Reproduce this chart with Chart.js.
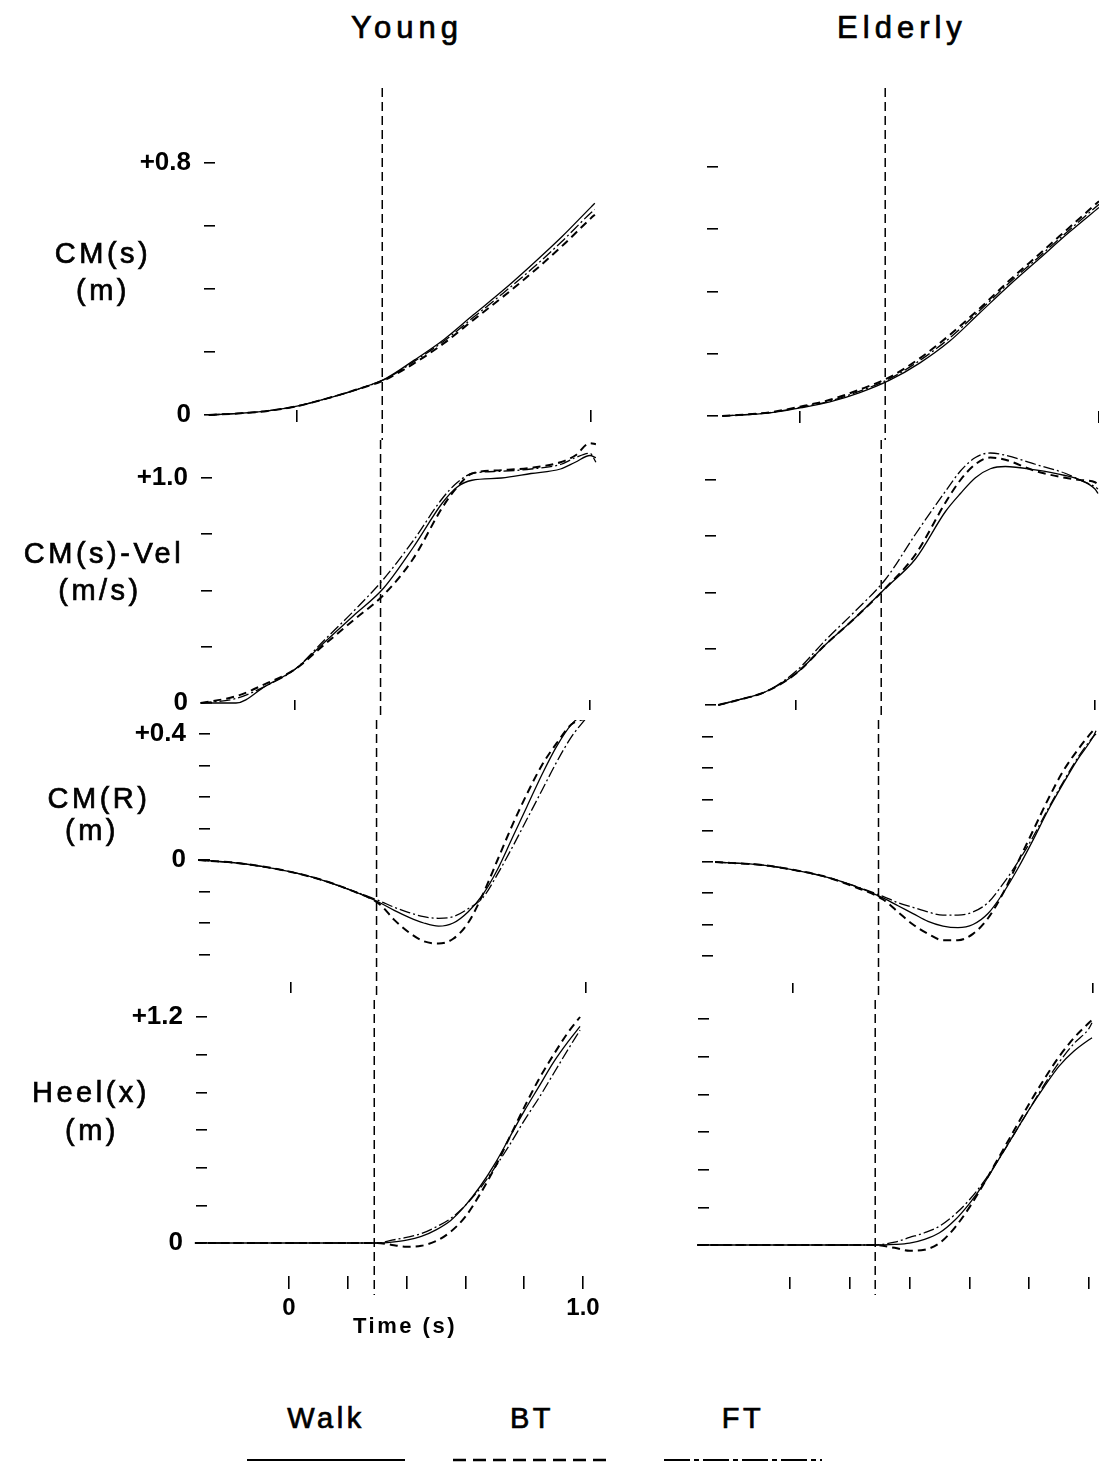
<!DOCTYPE html>
<html>
<head>
    <title>CM and Heel trajectories - Young vs Elderly</title>
    <script src="https://cdn.jsdelivr.net/npm/chart.js"></script>
    <style>
        body {
            margin: 0;
            background: #fff;
            font-family: "Liberation Sans", Arial, Helvetica, sans-serif;
            color: #000;
        }

        #page {
            position: relative;
            width: 1099px;
            height: 1464px;
            overflow: hidden;
        }

        #page canvas {
            position: absolute;
        }

        .lbl {
            position: absolute;
            transform: translate(-50%, -50%);
            white-space: nowrap;
            font-size: 29px;
            letter-spacing: 3.5px;
            -webkit-text-stroke: 0.7px #000;
        }

        .title {
            font-size: 31px;
            letter-spacing: 5px;
        }

        #time {
            font-size: 22px;
            font-weight: bold;
            letter-spacing: 2.5px;
            -webkit-text-stroke: 0;
        }
    </style>
</head>
<body>
<div id="page"></div>

<script>
    // ---- data ----
    const columns = ['Young', 'Elderly'];
    const seriesNames = ['Walk', 'BT', 'FT'];
    const rowLabels = [['CM(s)', '(m)'], ['CM(s)-Vel', '(m/s)'], ['CM(R)', '(m)'], ['Heel(x)', '(m)']];
    const eventTime = [0.29, 0.285];   // vertical dashed line, Young / Elderly

    const cmsTicks = [0, 0.2, 0.4, 0.6, 0.8];
    const velTicks = [0, 0.25, 0.5, 0.75, 1.0];
    const cmrTicks = [-0.3, -0.2, -0.1, 0, 0.1, 0.2, 0.3, 0.4];
    const heelTicks = [0, 0.2, 0.4, 0.6, 0.8, 1.0, 1.2];
    const timeEnds = [0, 1.0];
    const timeTicks = [0, 0.2, 0.4, 0.6, 0.8, 1.0];

    // Young
    const yCMsT    = [-0.3, -0.2, -0.1, 0, 0.1, 0.2, 0.3, 0.4, 0.5, 0.6, 0.7, 0.8, 0.9, 1.0, 1.013];
    const yCMsWalk = [0, 0.005, 0.013, 0.028, 0.052, 0.08, 0.115, 0.175, 0.24, 0.318, 0.395, 0.478, 0.565, 0.66, 0.672];
    const yCMsBT   = [0, 0.005, 0.013, 0.028, 0.052, 0.08, 0.112, 0.165, 0.228, 0.302, 0.375, 0.452, 0.535, 0.625, 0.636];
    const yCMsFT   = [0, 0.005, 0.013, 0.028, 0.052, 0.08, 0.114, 0.171, 0.235, 0.31, 0.386, 0.465, 0.55, 0.642, 0.652];

    const yVelT    = [-0.32, -0.2, -0.1, 0, 0.1, 0.2, 0.3, 0.4, 0.5, 0.55, 0.6, 0.7, 0.8, 0.9, 0.95, 1.0, 1.02];
    const yVelWalk = [0, 0, 0.075, 0.15, 0.27, 0.39, 0.51, 0.69, 0.89, 0.96, 0.99, 1.0, 1.02, 1.04, 1.07, 1.10, 1.09];
    const yVelBT   = [0, 0.03, 0.085, 0.15, 0.26, 0.37, 0.48, 0.64, 0.87, 0.96, 1.02, 1.035, 1.045, 1.07, 1.10, 1.155, 1.15];
    const yVelFT   = [0, 0.02, 0.075, 0.15, 0.28, 0.41, 0.55, 0.72, 0.91, 0.98, 1.02, 1.03, 1.04, 1.06, 1.09, 1.11, 1.07];

    const yCMrT    = [-0.315, -0.2, -0.1, 0, 0.1, 0.2, 0.3, 0.35, 0.4, 0.45, 0.5, 0.55, 0.6, 0.65, 0.7, 0.75, 0.8, 0.85, 0.9, 0.95, 1.0];
    const yCMrWalk = [0, -0.008, -0.02, -0.038, -0.062, -0.095, -0.135, -0.16, -0.182, -0.2, -0.21, -0.2, -0.165, -0.11, -0.03, 0.07, 0.17, 0.27, 0.36, 0.43, 0.47];
    const yCMrBT   = [0, -0.008, -0.02, -0.038, -0.062, -0.095, -0.14, -0.19, -0.23, -0.258, -0.265, -0.25, -0.2, -0.11, 0.0, 0.11, 0.21, 0.3, 0.37, 0.43, 0.45];
    const yCMrFT   = [0, -0.008, -0.02, -0.038, -0.062, -0.095, -0.13, -0.15, -0.167, -0.18, -0.185, -0.18, -0.155, -0.12, -0.045, 0.04, 0.13, 0.22, 0.31, 0.39, 0.45];

    const yHeelT    = [-0.32, -0.2, 0, 0.2, 0.3, 0.35, 0.4, 0.45, 0.5, 0.55, 0.6, 0.65, 0.7, 0.75, 0.8, 0.85, 0.9, 0.95, 0.99];
    const yHeelWalk = [0, 0, 0, 0, 0, 0.005, 0.015, 0.035, 0.07, 0.12, 0.2, 0.3, 0.42, 0.56, 0.7, 0.83, 0.96, 1.07, 1.15];
    const yHeelBT   = [0, 0, 0, 0, 0, -0.01, -0.02, -0.015, 0.01, 0.06, 0.14, 0.26, 0.4, 0.56, 0.72, 0.87, 1.0, 1.12, 1.2];
    const yHeelFT   = [0, 0, 0, 0, 0, 0.015, 0.03, 0.05, 0.085, 0.13, 0.2, 0.29, 0.4, 0.52, 0.65, 0.77, 0.9, 1.03, 1.13];

    // Elderly
    const eCMsT    = [-0.26, -0.1, 0, 0.1, 0.2, 0.3, 0.4, 0.5, 0.6, 0.7, 0.8, 0.9, 1.0];
    const eCMsWalk = [0, 0.01, 0.026, 0.045, 0.075, 0.115, 0.17, 0.24, 0.33, 0.42, 0.505, 0.59, 0.67];
    const eCMsBT   = [0, 0.012, 0.03, 0.052, 0.085, 0.125, 0.185, 0.26, 0.345, 0.435, 0.52, 0.605, 0.69];
    const eCMsFT   = [0, 0.011, 0.028, 0.048, 0.08, 0.12, 0.178, 0.25, 0.338, 0.428, 0.512, 0.597, 0.68];

    const eVelT    = [-0.26, -0.2, -0.1, 0, 0.1, 0.2, 0.3, 0.4, 0.5, 0.55, 0.6, 0.65, 0.7, 0.8, 0.9, 0.95, 1.0, 1.01];
    const eVelWalk = [0, 0.02, 0.06, 0.14, 0.27, 0.39, 0.52, 0.65, 0.86, 0.94, 1.01, 1.05, 1.06, 1.045, 1.02, 1.0, 0.96, 0.94];
    const eVelBT   = [0, 0.02, 0.06, 0.14, 0.27, 0.39, 0.52, 0.67, 0.9, 1.0, 1.07, 1.1, 1.09, 1.04, 1.01, 1.0, 0.99, 0.98];
    const eVelFT   = [0, 0.02, 0.06, 0.15, 0.29, 0.42, 0.56, 0.76, 0.95, 1.04, 1.1, 1.12, 1.11, 1.07, 1.03, 1.0, 0.97, 0.96];

    const eCMrT    = [-0.26, -0.1, 0, 0.1, 0.2, 0.3, 0.35, 0.4, 0.45, 0.5, 0.55, 0.6, 0.65, 0.7, 0.75, 0.8, 0.85, 0.9, 0.95, 1.0, 1.01];
    const eCMrWalk = [0, -0.01, -0.025, -0.045, -0.075, -0.115, -0.14, -0.165, -0.19, -0.205, -0.21, -0.2, -0.165, -0.1, -0.02, 0.07, 0.165, 0.25, 0.33, 0.4, 0.42];
    const eCMrBT   = [0, -0.01, -0.025, -0.045, -0.078, -0.12, -0.16, -0.2, -0.23, -0.25, -0.25, -0.23, -0.18, -0.1, 0.0, 0.1, 0.2, 0.29, 0.36, 0.42, 0.43];
    const eCMrFT   = [0, -0.01, -0.025, -0.045, -0.075, -0.11, -0.13, -0.145, -0.16, -0.17, -0.17, -0.16, -0.13, -0.07, 0.0, 0.08, 0.17, 0.255, 0.335, 0.4, 0.41];

    const eHeelT    = [-0.31, 0, 0.28, 0.35, 0.4, 0.45, 0.5, 0.55, 0.6, 0.65, 0.7, 0.75, 0.8, 0.85, 0.9, 0.95, 1.0, 1.01];
    const eHeelWalk = [0, 0, 0, 0.003, 0.01, 0.03, 0.065, 0.13, 0.22, 0.33, 0.46, 0.59, 0.72, 0.84, 0.95, 1.03, 1.09, 1.1];
    const eHeelBT   = [0, 0, 0, -0.015, -0.03, -0.025, 0.01, 0.09, 0.2, 0.33, 0.47, 0.61, 0.75, 0.88, 1.0, 1.1, 1.18, 1.195];
    const eHeelFT   = [0, 0, 0, 0.015, 0.04, 0.065, 0.1, 0.16, 0.24, 0.34, 0.46, 0.59, 0.72, 0.85, 0.97, 1.07, 1.15, 1.18];

    const panels = [
        [
            { t: yCMsT, walk: yCMsWalk, bt: yCMsBT, ft: yCMsFT, yTicks: cmsTicks, xTicks: timeEnds },
            { t: yVelT, walk: yVelWalk, bt: yVelBT, ft: yVelFT, yTicks: velTicks, xTicks: timeEnds },
            { t: yCMrT, walk: yCMrWalk, bt: yCMrBT, ft: yCMrFT, yTicks: cmrTicks, xTicks: timeEnds },
            { t: yHeelT, walk: yHeelWalk, bt: yHeelBT, ft: yHeelFT, yTicks: heelTicks, xTicks: timeTicks, xLabels: true }
        ],
        [
            { t: eCMsT, walk: eCMsWalk, bt: eCMsBT, ft: eCMsFT, yTicks: cmsTicks, xTicks: timeEnds },
            { t: eVelT, walk: eVelWalk, bt: eVelBT, ft: eVelFT, yTicks: velTicks, xTicks: timeEnds },
            { t: eCMrT, walk: eCMrWalk, bt: eCMrBT, ft: eCMrFT, yTicks: cmrTicks, xTicks: timeEnds },
            { t: eHeelT, walk: eHeelWalk, bt: eHeelBT, ft: eHeelFT, yTicks: heelTicks, xTicks: timeTicks }
        ]
    ];

    // ---- layout (pixel geometry of the scanned figure) ----
    const colGeom = [
        { left: 0, width: 620, R: 600, titleX: 407 },
        { left: 620, width: 479, R: 1099, titleX: 902 }
    ];
    // p0/p1: pixel of t=0 / t=1, q0/q1: pixel of 0 / top tick, L: plot left, B: plot bottom
    const rowGeom = [
        [
            { ct: 88, ch: 352, p0: 297, p1: 591, q0: 415, q1: 163, L: 204, B: 422, xtl: -12 },
            { ct: 440, ch: 280, p0: 295, p1: 590, q0: 703, q1: 478, L: 201, B: 710, xtl: -10 },
            { ct: 720, ch: 280, p0: 291, p1: 586, q0: 860, q1: 734, L: 199, B: 982, xtl: 11 },
            { ct: 1000, ch: 330, p0: 289, p1: 583, q0: 1243, q1: 1017, L: 196, B: 1276, xtl: 13, lineBottom: 1295 }
        ],
        [
            { ct: 88, ch: 352, p0: 800, p1: 1099, q0: 416, q1: 167, L: 707, B: 423, xtl: -12 },
            { ct: 440, ch: 280, p0: 796, p1: 1095, q0: 705, q1: 480, L: 705, B: 710, xtl: -10 },
            { ct: 720, ch: 280, p0: 793, p1: 1093, q0: 862, q1: 737, L: 702, B: 983, xtl: 10 },
            { ct: 1000, ch: 330, p0: 790, p1: 1089, q0: 1245, q1: 1019, L: 698, B: 1277, xtl: 12, lineBottom: 1295 }
        ]
    ];
    const rowLabelPos = [
        [{ x: 103, y: 253 }, { x: 103, y: 290 }],
        [{ x: 104, y: 553 }, { x: 100, y: 590 }],
        [{ x: 99, y: 798 }, { x: 92, y: 830 }],
        [{ x: 91, y: 1092 }, { x: 92, y: 1130 }]
    ];
    const legendX = [326, 532, 743];
    const seriesStyle = [
        { width: 1.3, dash: [], legendDash: '' },
        { width: 2, dash: [8, 5], legendDash: '13 7' },
        { width: 1.3, dash: [11, 3, 2, 3], legendDash: '26 4 5 4' }
    ];
    const inkFont = "'Liberation Sans', Arial, Helvetica, sans-serif";

    const page = document.getElementById('page');

    function addText(text, x, y, cls, id) {
        const d = document.createElement('div');
        d.className = 'lbl ' + (cls || '');
        if (id) d.id = id;
        d.textContent = text;
        d.style.left = x + 'px';
        d.style.top = y + 'px';
        page.appendChild(d);
    }

    // dashed vertical event line through each panel
    const eventLine = {
        id: 'eventLine',
        afterDraw(chart, args, o) {
            const x = chart.scales.x.getPixelForValue(o.t);
            const c = chart.ctx;
            c.save();
            c.strokeStyle = '#000';
            c.lineWidth = 1.5;
            c.setLineDash([9, 5]);
            c.beginPath();
            c.moveTo(x, o.top);
            c.lineTo(x, o.bottom);
            c.stroke();
            c.restore();
        }
    };

    function noPad(s) {
        s.paddingTop = 0;
        s.paddingBottom = 0;
        s.paddingLeft = 0;
        s.paddingRight = 0;
    }

    function buildPanel(ci, ri) {
        const p = panels[ci][ri];
        const g = rowGeom[ci][ri];
        const c = colGeom[ci];

        const cv = document.createElement('canvas');
        cv.width = c.width;
        cv.height = g.ch;
        cv.style.left = c.left + 'px';
        cv.style.top = g.ct + 'px';
        page.appendChild(cv);

        const span = g.p1 - g.p0;
        const xmin = (g.L - g.p0) / span;
        const xmax = (c.R - g.p0) / span;
        const vTop = p.yTicks[p.yTicks.length - 1];
        const k = (g.q0 - g.q1) / vTop;
        const ymin = (g.q0 - g.B) / k;

        const datasets = [p.walk, p.bt, p.ft].map((vals, i) => ({
            label: seriesNames[i],
            data: p.t.map((t, j) => ({ x: t, y: vals[j] })),
            borderColor: '#000',
            borderWidth: seriesStyle[i].width,
            borderDash: seriesStyle[i].dash,
            pointRadius: 0,
            cubicInterpolationMode: 'monotone',
            fill: false,
            clip: false
        }));

        new Chart(cv.getContext('2d'), {
            type: 'line',
            data: { datasets: datasets },
            plugins: [eventLine],
            options: {
                responsive: false,
                animation: false,
                devicePixelRatio: 1,
                layout: {
                    autoPadding: false,
                    padding: { top: g.q1 - g.ct, right: c.left + c.width - c.R, left: 0, bottom: 0 }
                },
                plugins: {
                    legend: { display: false },
                    tooltip: { enabled: false },
                    eventLine: { t: eventTime[ci], top: 0, bottom: g.lineBottom ? g.lineBottom - g.ct : g.ch }
                },
                scales: {
                    x: {
                        type: 'linear',
                        min: xmin,
                        max: xmax,
                        border: { display: false },
                        grid: { drawOnChartArea: false, drawTicks: true, tickLength: g.xtl, color: '#000', lineWidth: 1.6 },
                        ticks: {
                            autoSkip: false,
                            maxRotation: 0,
                            padding: 5,
                            color: '#000',
                            font: { family: inkFont, size: 24, weight: 'bold' },
                            callback: v => (ci === 0 && p.xLabels) ? (v === 0 ? '0' : v === 1 ? '1.0' : '') : ''
                        },
                        afterBuildTicks: s => { s.ticks = p.xTicks.map(v => ({ value: v })); },
                        afterFit: s => { s.height = g.ct + g.ch - g.B; noPad(s); }
                    },
                    y: {
                        type: 'linear',
                        position: 'left',
                        min: ymin,
                        max: vTop,
                        border: { display: false },
                        grid: { drawOnChartArea: false, drawTicks: true, tickLength: -11, color: '#000', lineWidth: 1.6 },
                        ticks: {
                            autoSkip: false,
                            padding: 24,
                            color: '#000',
                            font: { family: inkFont, size: 26, weight: 'bold' },
                            callback: v => ci === 0 ? (v === vTop ? '+' + vTop.toFixed(1) : v === 0 ? '0' : '') : ''
                        },
                        afterBuildTicks: s => { s.ticks = p.yTicks.map(v => ({ value: v })); },
                        afterFit: s => { s.width = g.L - c.left; noPad(s); }
                    }
                }
            }
        });
    }

    columns.forEach((name, ci) => {
        addText(name, colGeom[ci].titleX, 28, 'title');
        for (let ri = 0; ri < 4; ri++) buildPanel(ci, ri);
    });

    rowLabels.forEach((pair, ri) => {
        pair.forEach((txt, li) => addText(txt, rowLabelPos[ri][li].x, rowLabelPos[ri][li].y));
    });
    addText('Time (s)', 405, 1326, '', 'time');

    // legend
    seriesNames.forEach((name, i) => addText(name, legendX[i], 1418));
    const ns = 'http://www.w3.org/2000/svg';
    const svg = document.createElementNS(ns, 'svg');
    svg.setAttribute('width', '1099');
    svg.setAttribute('height', '20');
    svg.style.position = 'absolute';
    svg.style.left = '0px';
    svg.style.top = '1450px';
    seriesNames.forEach((name, i) => {
        const ln = document.createElementNS(ns, 'line');
        ln.setAttribute('x1', legendX[i] - 79);
        ln.setAttribute('x2', legendX[i] + 79);
        ln.setAttribute('y1', 10);
        ln.setAttribute('y2', 10);
        ln.setAttribute('stroke', '#000');
        ln.setAttribute('stroke-width', seriesStyle[i].width + 0.5);
        if (seriesStyle[i].legendDash) ln.setAttribute('stroke-dasharray', seriesStyle[i].legendDash);
        svg.appendChild(ln);
    });
    page.appendChild(svg);
</script>
</body>
</html>
